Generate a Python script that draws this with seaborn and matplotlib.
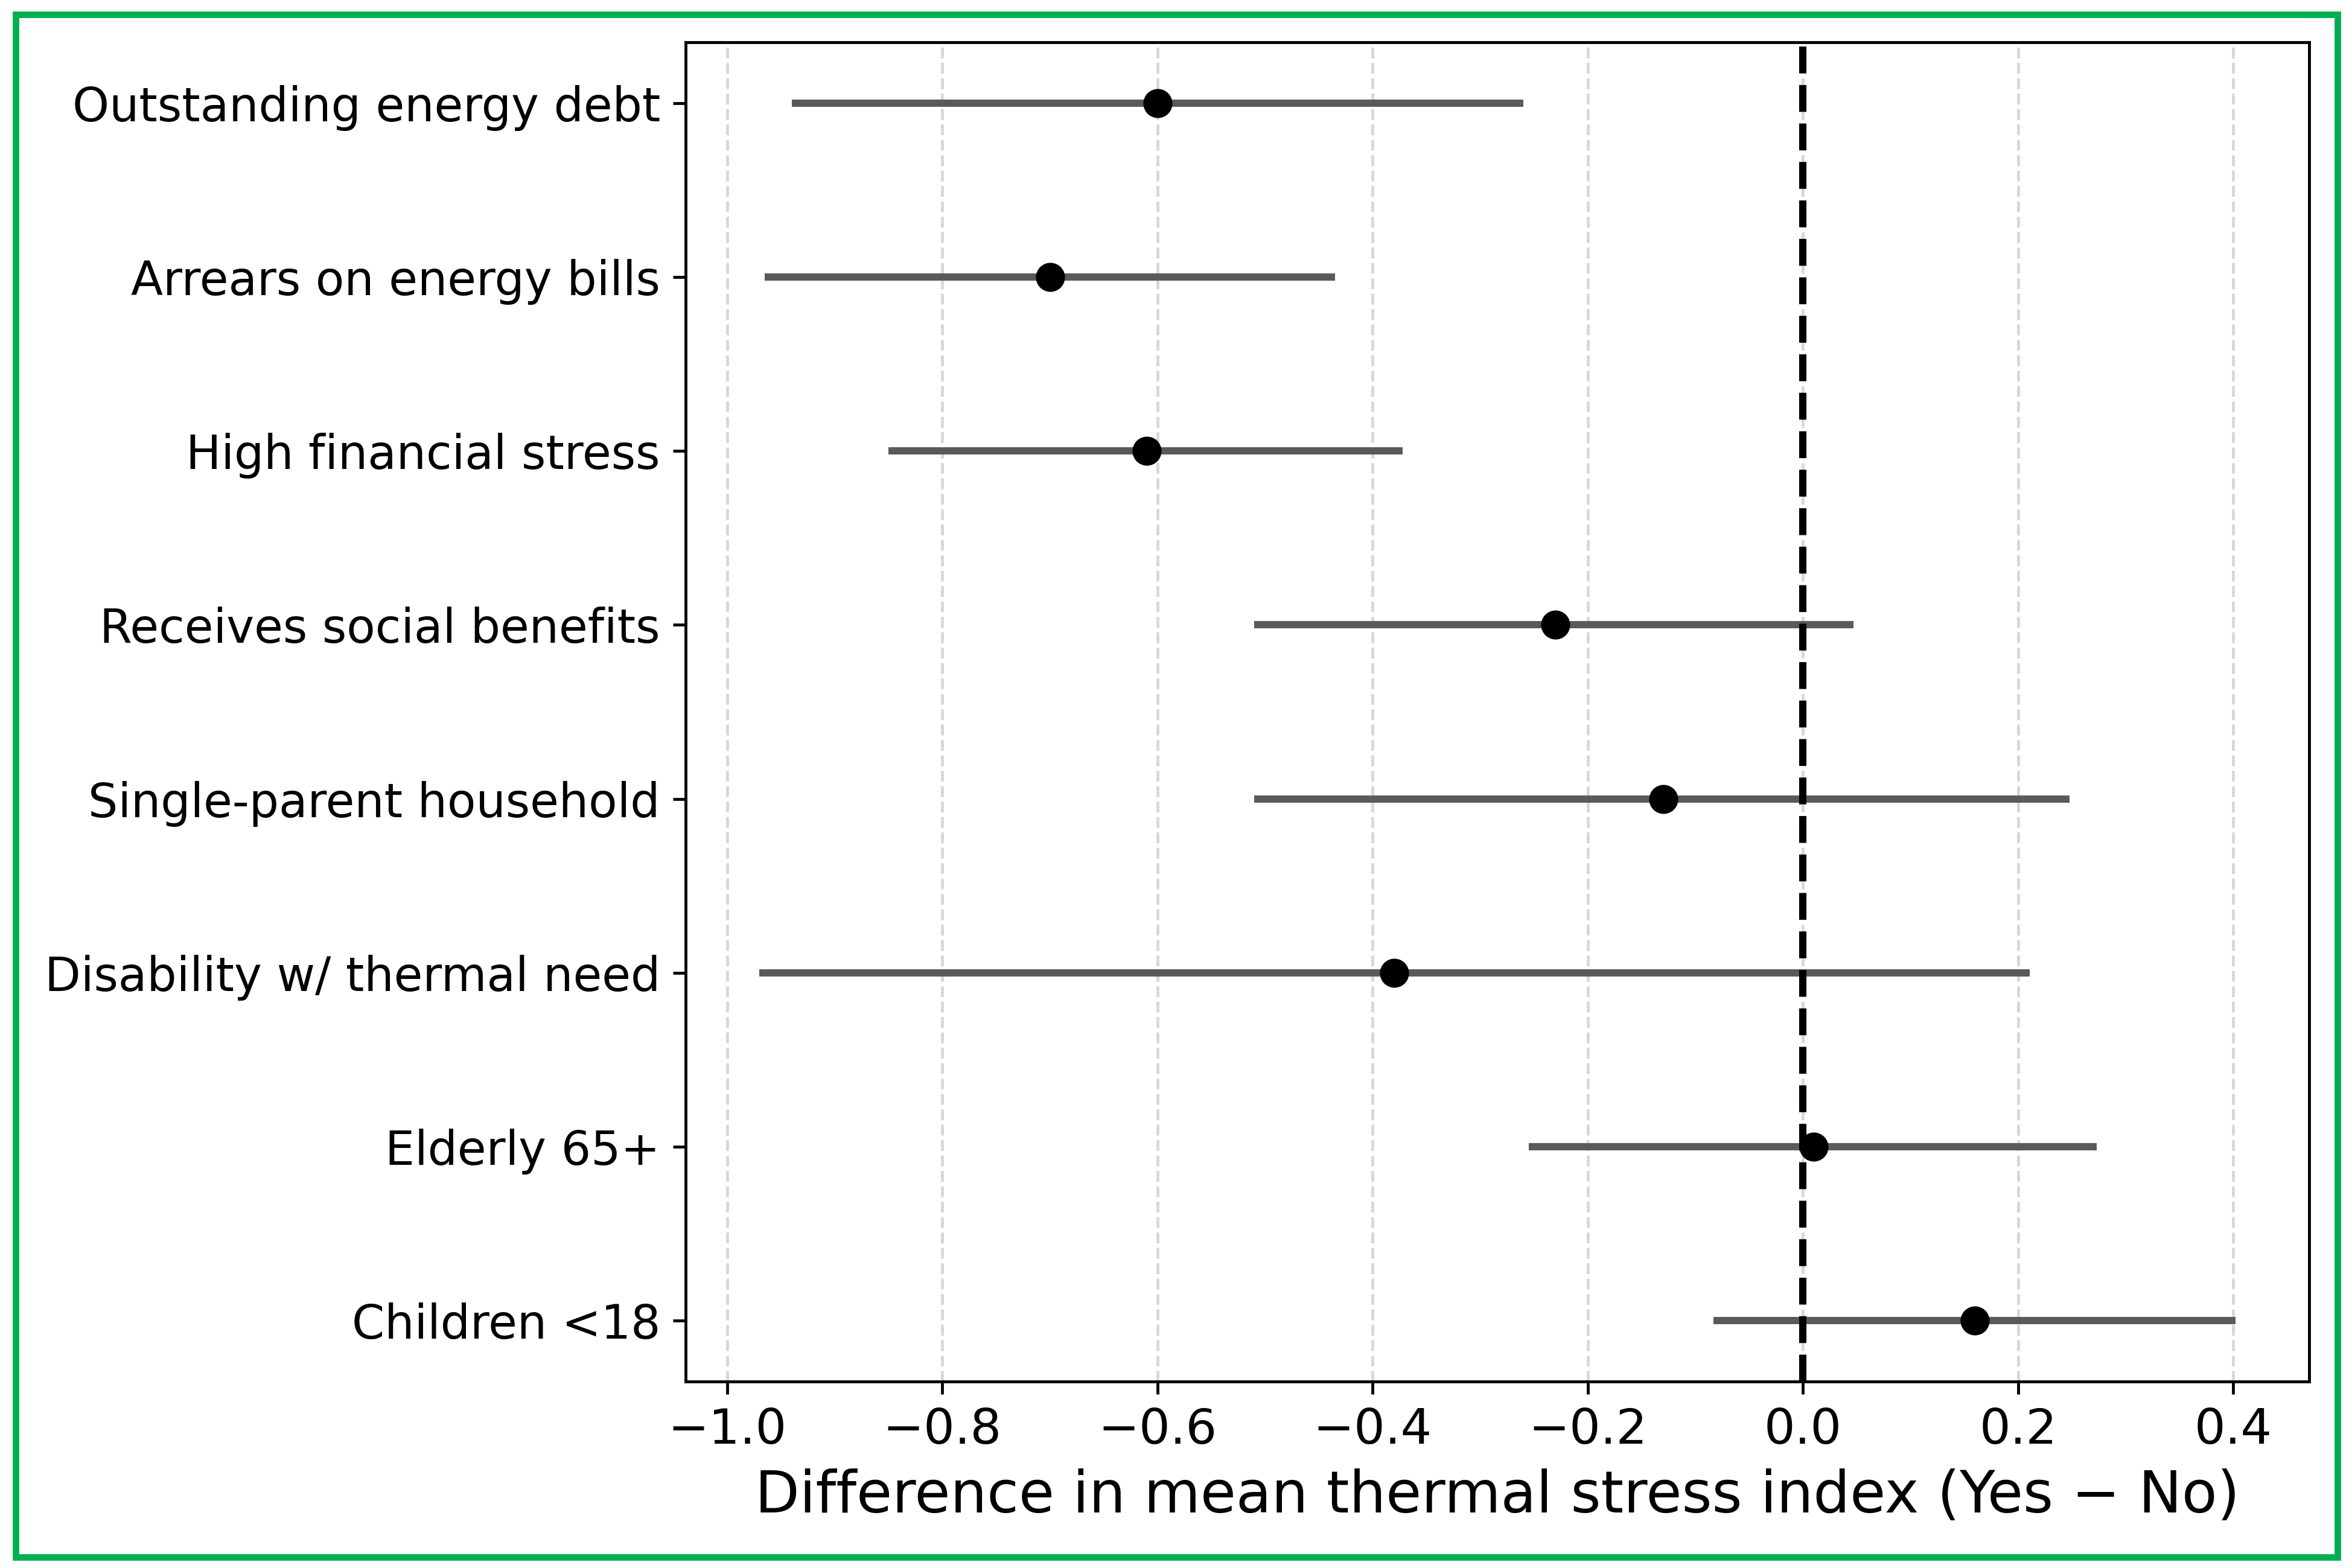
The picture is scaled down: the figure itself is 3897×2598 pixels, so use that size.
import numpy as np
import matplotlib
matplotlib.use("Agg")
import matplotlib.pyplot as plt
import seaborn as sns
from matplotlib.patches import Rectangle

# Data: difference in mean thermal stress index (Yes - No) with 95% CI
factors = [
    "Outstanding energy debt",
    "Arrears on energy bills",
    "High financial stress",
    "Receives social benefits",
    "Single-parent household",
    "Disability w/ thermal need",
    "Elderly 65+",
    "Children <18",
]
diff = [-0.60, -0.70, -0.61, -0.23, -0.13, -0.38, 0.01, 0.16]
ci_low = [-0.94, -0.965, -0.85, -0.51, -0.51, -0.97, -0.255, -0.083]
ci_high = [-0.26, -0.435, -0.372, 0.047, 0.248, 0.211, 0.273, 0.402]

plt.rcParams['font.family'] = ['DejaVu Sans']

fig, ax = plt.subplots(figsize=(9, 6), dpi=433)
fig.subplots_adjust(left=0.2915, right=0.9818, top=0.973, bottom=0.119)

ypos = np.arange(len(factors))
diff_arr = np.array(diff)
xerr = np.vstack([diff_arr - np.array(ci_low), np.array(ci_high) - diff_arr])

# CI lines
ax.errorbar(diff_arr, ypos, xerr=xerr, fmt="none", ecolor="#5a5a5a",
            elinewidth=2, capsize=0, zorder=2)
ax.axvline(0, color="black", linestyle="--", linewidth=2, zorder=2.5)

# point estimates
sns.scatterplot(x=diff_arr, y=ypos, ax=ax, color="black", s=64,
                edgecolor="black", linewidth=0, zorder=3, legend=False)

ax.set_yticks(ypos)
ax.set_yticklabels(factors, fontsize=12.92)
ax.invert_yaxis()
ax.tick_params(axis="x", labelsize=13.5)
ax.set_xticks([-1.0, -0.8, -0.6, -0.4, -0.2, 0.0, 0.2, 0.4])
ax.set_xlabel("Difference in mean thermal stress index (Yes \u2212 No)", fontsize=15.95)
ax.set_ylabel("")
ax.grid(axis="x", linestyle="--", alpha=0.5)
ax.set_axisbelow(True)

# green frame around the figure
fig.patches.append(Rectangle((0.0067, 0.0069), 0.9871, 0.9839, transform=fig.transFigure,
                             fill=False, edgecolor="#00b050", linewidth=1.8, zorder=10))

fig.savefig("out.png", dpi=433)
